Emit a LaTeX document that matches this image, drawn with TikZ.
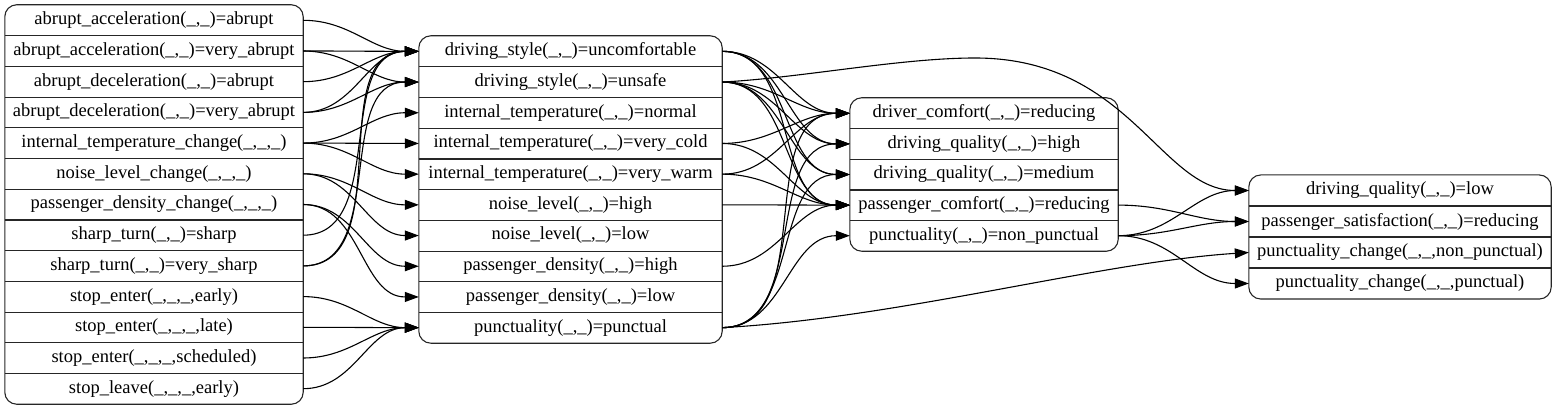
\documentclass[tikz,border=0pt]{standalone}
\usepackage{fontspec}
\setmainfont{Liberation Serif}
\usetikzlibrary{arrows.meta}
\begin{document}
\begin{tikzpicture}[x=1pt,y=-1pt,
 fld/.style={inner sep=0pt, minimum height=30.7pt, font=\fontsize{18.5}{20}\selectfont},
 c1/.style={fld, minimum width=298pt},
 c2/.style={fld, minimum width=303pt},
 c3/.style={fld, minimum width=268pt},
 c4/.style={fld, minimum width=302pt},
 box/.style={draw=black!85, line width=1.1pt, rounded corners=12pt},
 sep/.style={draw=black!85, line width=1.1pt},
 e/.style={draw, line width=1.1pt, -{Triangle[length=14pt,width=10pt]}, out=0, in=180}]
\useasboundingbox (0,0) rectangle (1557,411);
% column 1
\node[c1] (a1) at (154,20.3) {abrupt\_acceleration(\_,\_)=abrupt};
\node[c1] (a2) at (154,51.0) {abrupt\_acceleration(\_,\_)=very\_abrupt};
\node[c1] (a3) at (154,81.7) {abrupt\_deceleration(\_,\_)=abrupt};
\node[c1] (a4) at (154,112.4) {abrupt\_deceleration(\_,\_)=very\_abrupt};
\node[c1] (a5) at (154,143.1) {internal\_temperature\_change(\_,\_,\_)};
\node[c1] (a6) at (154,173.8) {noise\_level\_change(\_,\_,\_)};
\node[c1] (a7) at (154,204.5) {passenger\_density\_change(\_,\_,\_)};
\node[c1] (a8) at (154,235.2) {sharp\_turn(\_,\_)=sharp};
\node[c1] (a9) at (154,265.9) {sharp\_turn(\_,\_)=very\_sharp};
\node[c1] (a10) at (154,296.6) {stop\_enter(\_,\_,\_,early)};
\node[c1] (a11) at (154,327.3) {stop\_enter(\_,\_,\_,late)};
\node[c1] (a12) at (154,358.0) {stop\_enter(\_,\_,\_,scheduled)};
\node[c1] (a13) at (154,388.7) {stop\_leave(\_,\_,\_,early)};
\draw[box] (a1.north west) rectangle (a13.south east);
\foreach \k in {1,...,12} \draw[sep] (a\k.south west) -- (a\k.south east);
% column 2
\node[c2] (b1) at (570.5,51.35) {driving\_style(\_,\_)=uncomfortable};
\node[c2] (b2) at (570.5,82.05) {driving\_style(\_,\_)=unsafe};
\node[c2] (b3) at (570.5,112.75) {internal\_temperature(\_,\_)=normal};
\node[c2] (b4) at (570.5,143.45) {internal\_temperature(\_,\_)=very\_cold};
\node[c2] (b5) at (570.5,174.15) {internal\_temperature(\_,\_)=very\_warm};
\node[c2] (b6) at (570.5,204.85) {noise\_level(\_,\_)=high};
\node[c2] (b7) at (570.5,235.55) {noise\_level(\_,\_)=low};
\node[c2] (b8) at (570.5,266.25) {passenger\_density(\_,\_)=high};
\node[c2] (b9) at (570.5,296.95) {passenger\_density(\_,\_)=low};
\node[c2] (b10) at (570.5,327.65) {punctuality(\_,\_)=punctual};
\draw[box] (b1.north west) rectangle (b10.south east);
\foreach \k in {1,...,9} \draw[sep] (b\k.south west) -- (b\k.south east);
% column 3
\node[c3] (c1) at (984,113.3) {driver\_comfort(\_,\_)=reducing};
\node[c3] (c2) at (984,143.9) {driving\_quality(\_,\_)=high};
\node[c3] (c3) at (984,174.5) {driving\_quality(\_,\_)=medium};
\node[c3] (c4) at (984,205.1) {passenger\_comfort(\_,\_)=reducing};
\node[c3] (c5) at (984,235.7) {punctuality(\_,\_)=non\_punctual};
\draw[box] (c1.north west) rectangle (c5.south east);
\foreach \k in {1,...,4} \draw[sep] (c\k.south west) -- (c\k.south east);
% column 4
\node[c4] (d1) at (1400,190.5) {driving\_quality(\_,\_)=low};
\node[c4] (d2) at (1400,221.5) {passenger\_satisfaction(\_,\_)=reducing};
\node[c4] (d3) at (1400,252.5) {punctuality\_change(\_,\_,non\_punctual)};
\node[c4] (d4) at (1400,283.5) {punctuality\_change(\_,\_,punctual)};
\draw[box] (d1.north west) rectangle (d4.south east);
\foreach \k in {1,...,3} \draw[sep] (d\k.south west) -- (d\k.south east);
% edges column 1 -> column 2
\foreach \s/\t in {a1/b1,a2/b1,a2/b2,a3/b1,a4/b1,a4/b2,a5/b3,a5/b4,a5/b5,a6/b6,a6/b7,a7/b8,a7/b9,a8/b1,a9/b1,a9/b2,a10/b10,a11/b10,a12/b10,a13/b10}
  \draw[e] (\s.east) to (\t.west);
% edges column 2 -> column 3
\foreach \s/\t in {b1/c1,b1/c2,b1/c3,b1/c4,b2/c1,b2/c2,b2/c3,b2/c4,b4/c1,b4/c4,b5/c1,b5/c4,b6/c4,b8/c4,b10/c1,b10/c2,b10/c3,b10/c5}
  \draw[e] (\s.east) to (\t.west);
% edges column 3 -> column 4
\foreach \s/\t in {c4/d2,c5/d1,c5/d2,c5/d4}
  \draw[e] (\s.east) to (\t.west);
% long edges
\draw[e] (b2.east) .. controls (800,78) and (900,58) .. (975,58) .. controls (1130,58) and (1160,190.5) .. (d1.west);
\draw[e] (b10.east) .. controls (900,318) and (1100,262) .. (d3.west);
\end{tikzpicture}
\end{document}
